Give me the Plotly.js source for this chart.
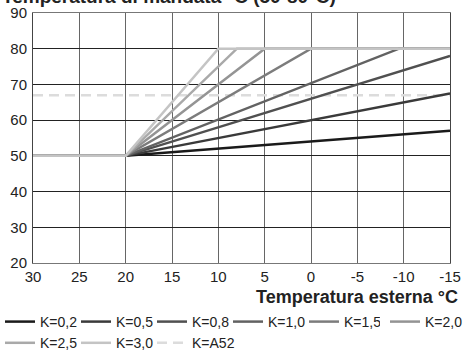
<!DOCTYPE html>
<html>
<head>
<meta charset="utf-8">
<script src="https://cdn.plot.ly/plotly-3.0.1.min.js"></script>
<style>html,body{margin:0;padding:0;background:#fff;}#chart{width:463px;height:352px;}</style>
</head>
<body>
<div id="chart"></div>
<script>
// Outdoor temperature (°C) break points per curve
const seriesNames = ["K=0,2","K=0,5","K=0,8","K=1,0","K=1,5","K=2,0","K=2,5","K=3,0","K=A52"];
const seriesX = [
  [30, 20, -15],
  [30, 20, -15],
  [30, 20, -15],
  [30, 20, -9.5, -15],
  [30, 20, 0, -15],
  [30, 20, 5, -15],
  [30, 20, 8, -15],
  [30, 20, 10, -15],
  [30, -15]
];
// Flow temperature (°C)
const seriesY = [
  [50, 50, 57],
  [50, 50, 67.5],
  [50, 50, 78],
  [50, 50, 80, 80],
  [50, 50, 80, 80],
  [50, 50, 80, 80],
  [50, 50, 80, 80],
  [50, 50, 80, 80],
  [67, 67]
];
const seriesColors = ["#1a1a1a","#3a3a3a","#505050","#626262","#7c7c7c","#949494","#a9a9a9","#c4c4c4","#dcdcdc"];
const xTicks = [30,25,20,15,10,5,0,-5,-10,-15];
const yTicks = [20,30,40,50,60,70,80,90];
const titleText = "Temperatura di mandata °C (50-80°C)";
const xTitleText = "Temperatura esterna °C";

const traces = seriesNames.map((n, i) => ({
  type: "scatter", mode: "lines", name: n,
  x: seriesX[i], y: seriesY[i],
  line: {color: seriesColors[i], width: 2.5, dash: n === "K=A52" ? "10px,6px" : "solid"},
  hoverinfo: "skip",
  legendrank: i + 1,
  legend: n === "K=2,0" ? "legend2" : "legend"
}));
// draw A52 first so the solid lines sit above it
const ordered = [traces[8]].concat(traces.slice(0,8));

const font = "Liberation Sans, Arial, sans-serif";
const legendBase = {orientation: "h", xref: "paper", xanchor: "left", yref: "paper", yanchor: "top",
  y: -43 / 250, traceorder: "normal", font: {family: font, size: 14, color: "#222"},
  itemwidth: 30, tracegroupgap: 0, bgcolor: "rgba(0,0,0,0)"};
const layout = {
  width: 463, height: 352,
  margin: {l: 33, r: 13, t: 13, b: 89, autoexpand: false},
  paper_bgcolor: "#fff", plot_bgcolor: "#fff",
  font: {family: font, size: 15, color: "#222"},
  showlegend: true,
  xaxis: {range: [30, -15], tickvals: xTicks, ticktext: xTicks.map(String), showgrid: true,
          gridcolor: "#666", gridwidth: 1, zeroline: false, showline: true, linecolor: "#777",
          mirror: true, ticks: "", tickfont: {size: 15}, fixedrange: true},
  yaxis: {range: [20, 90], tickvals: yTicks, ticktext: yTicks.map(String), showgrid: true,
          gridcolor: "#222", gridwidth: 1, zeroline: false, showline: true, linecolor: "#444",
          mirror: true, ticks: "", tickfont: {size: 15}, ticklabelstandoff: 2, fixedrange: true},
  legend: Object.assign({}, legendBase, {x: -33 / 417, entrywidth: 31}),
  legend2: Object.assign({}, legendBase, {x: (385 - 33) / 417}),
  annotations: [
    {text: "<b>" + titleText + "</b>", xref: "paper", yref: "paper", x: 0, y: 1,
     xanchor: "left", yanchor: "middle", xshift: -33, yshift: 17, showarrow: false,
     font: {family: font, size: 19, color: "#222"}},
    {text: "<b>" + xTitleText + "</b>", xref: "paper", yref: "paper", x: 1, y: 0,
     xanchor: "right", yanchor: "top", yshift: -22, xshift: 10, showarrow: false,
     font: {family: font, size: 18, color: "#222"}}]
};
Plotly.newPlot("chart", ordered, layout, {displayModeBar: false, staticPlot: true});
</script>
</body>
</html>
